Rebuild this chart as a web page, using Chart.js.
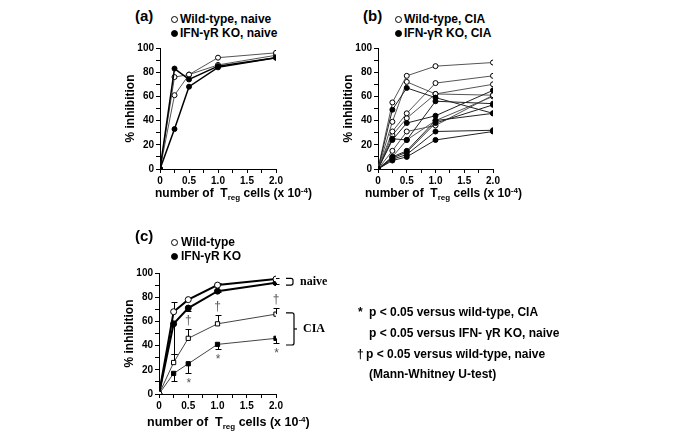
<!DOCTYPE html>
<html>
<head>
<meta charset="utf-8">
<script src="https://cdn.jsdelivr.net/npm/chart.js@4.4.1/dist/chart.umd.min.js"></script>
<style>
  body { margin: 0; width: 685px; height: 448px; background: #fff; position: relative; overflow: hidden;
         font-family: "Liberation Sans", Arial, sans-serif; font-weight: bold; color: #000; }
  .txt { position: absolute; white-space: nowrap; line-height: 14px; font-size: 12px; }
  .tag { position: absolute; font-size: 15px; line-height: 18px; }
  .dot { position: absolute; width: 5px; height: 5px; border: 1px solid #000; border-radius: 50%; background: #fff; }
  .dot.fill { background: #000; }
  .xt sub { font-size: 8px; vertical-align: -3px; }
  .xt sup { font-size: 8px; vertical-align: 4px; }
  .note { font-size: 12px; }
  canvas { position: absolute; }
</style>
</head>
<body>
<div class="tag" style="left:135px;top:7px">(a)</div>
<span class="dot" style="left:171px;top:16px"></span>
<div class="txt" style="left:180px;top:12px">Wild-type, naive</div>
<span class="dot fill" style="left:171px;top:30px"></span>
<div class="txt" style="left:180px;top:26px">IFN-γR KO, naive</div>
<canvas id="chartA" width="169" height="149" style="left:119px;top:40px"></canvas>
<div class="txt xt" style="left:155px;top:184px">number of&nbsp; T<sub>reg</sub> cells (x 10<sup>-4</sup>)</div>

<div class="tag" style="left:363px;top:7px">(b)</div>
<span class="dot" style="left:395px;top:16px"></span>
<div class="txt" style="left:404px;top:12px">Wild-type, CIA</div>
<span class="dot fill" style="left:395px;top:30px"></span>
<div class="txt" style="left:404px;top:26px">IFN-γR KO, CIA</div>
<canvas id="chartB" width="168" height="149" style="left:337px;top:40px"></canvas>
<div class="txt xt" style="left:365px;top:184px">number of&nbsp; T<sub>reg</sub> cells (x 10<sup>-4</sup>)</div>

<div class="tag" style="left:135px;top:227px">(c)</div>
<span class="dot" style="left:171px;top:239px"></span>
<div class="txt" style="left:181px;top:235px">Wild-type</div>
<span class="dot fill" style="left:171px;top:253px"></span>
<div class="txt" style="left:181px;top:249px">IFN-γR KO</div>
<canvas id="chartC" width="222" height="149" style="left:118px;top:265px"></canvas>
<div class="txt xt" style="left:147px;top:413px;font-size:12.5px">number of&nbsp; T<sub>reg</sub> cells (x 10<sup>-4</sup>)</div>

<div class="txt note" style="left:358px;top:305px">*</div>
<div class="txt note" style="left:369px;top:305px">p &lt; 0.05 versus wild-type, CIA</div>
<div class="txt note" style="left:369px;top:326px">p &lt; 0.05 versus IFN- γR KO, naive</div>
<div class="txt note" style="left:357px;top:347px">†</div>
<div class="txt note" style="left:366px;top:347px">p &lt; 0.05 versus wild-type, naive</div>
<div class="txt note" style="left:369px;top:367px">(Mann-Whitney U-test)</div>

<script>
const doses = [0, 0.25, 0.5, 1.0, 2.0];

// (a) naive mice, one line per experiment
const wtNaiveRuns = [
  [0, 76, 78, 92, 96],
  [0, 61, 78, 86, 94],
];
const koNaiveRuns = [
  [0, 83, 74, 85, 92],
  [0, 33, 68, 84, 92],
];

// (b) CIA mice, one line per experiment
const wtCiaRuns = [
  [0, 55, 77, 85, 88],
  [0, 39, 72, 62, 61],
  [0, 31, 46, 71, 77],
  [0, 28, 42, 62, 70],
  [0, 15, 31, 36, 61],
  [0, 10, 24, 40, 60],
];
const koCiaRuns = [
  [0, 49, 67, 59, 46],
  [0, 24, 38, 44, 65],
  [0, 25, 24, 56, 54],
  [0, 10, 15, 40, 46],
  [0, 8, 12, 31, 32],
  [0, 7, 10, 24, 31],
  [0, 9, 14, 38, 53],
];

// (c) means and error bars
const wtNaiveMean = [0, 68, 78, 90, 95];
const wtNaiveErr = [0, 8, 1, 2, 1];
const koNaiveMean = [0, 58, 71, 85, 92];
const koNaiveErr = [0, 25, 2, 1, 1];
const wtCiaMean = [0, 26, 46, 58, 66];
const wtCiaErr = [0, 7, 8, 7, 5];
const koCiaMean = [0, 17, 25, 41, 46];
const koCiaErr = [0, 6, 8, 4, 4];
const daggerAt = [false, false, true, true, true];
const starAt = [false, false, true, true, true];

const FONT = '"Liberation Sans", Arial, sans-serif';

function series(values, filled, opts) {
  return Object.assign({
    data: doses.map((d, i) => ({ x: d, y: values[i] })),
    borderColor: '#333',
    borderWidth: 1,
    pointRadius: 2.5,
    pointBorderWidth: 1,
    pointBorderColor: '#000',
    pointBackgroundColor: filled ? '#000' : '#fff',
    tension: 0,
  }, opts || {});
}

function baseOptions(padRight) {
  return {
    responsive: false,
    animation: false,
    events: [],
    layout: { padding: { top: 8, right: padRight, left: 0, bottom: 0 } },
    plugins: { legend: { display: false }, tooltip: { enabled: false } },
    scales: {
      x: {
        type: 'linear', min: 0, max: 2,
        border: { display: true, color: '#000', width: 1 },
        grid: { drawOnChartArea: false, drawTicks: true, tickLength: 4, color: '#000' },
        ticks: {
          stepSize: 0.25, autoSkip: false, maxRotation: 0, padding: 2,
          color: '#000', font: { family: FONT, size: 10, weight: 'bold' },
          callback: v => (v % 0.5 === 0 ? (v === 0 ? '0' : v.toFixed(1)) : ''),
        },
        afterFit: s => { s.height = 20; },
      },
      y: {
        min: 0, max: 100,
        border: { display: true, color: '#000', width: 1 },
        grid: { drawOnChartArea: false, drawTicks: true, tickLength: 4, color: '#000' },
        ticks: {
          stepSize: 10, autoSkip: false, padding: 2,
          color: '#000', font: { family: FONT, size: 10, weight: 'bold' },
          callback: v => (v % 20 === 0 ? v : ''),
        },
        title: { display: true, text: '% inhibition', color: '#000', padding: { top: 4, bottom: 0 },
                 font: { family: FONT, size: 12, weight: 'bold' } },
        afterFit: s => { s.width = 41; },
      },
    },
  };
}

// panel (a)
new Chart(document.getElementById('chartA'), {
  type: 'line',
  data: {
    datasets: [
      ...koNaiveRuns.map(r => series(r, true, { borderColor: '#000', borderWidth: 1.5 })),
      ...wtNaiveRuns.map(r => series(r, false, { borderColor: '#555' })),
    ],
  },
  options: baseOptions(12),
});

// panel (b)
new Chart(document.getElementById('chartB'), {
  type: 'line',
  data: {
    datasets: [
      ...koCiaRuns.map(r => series(r, true, { borderColor: '#222' })),
      ...wtCiaRuns.map(r => series(r, false, { borderColor: '#555' })),
    ],
  },
  options: baseOptions(12),
});

// panel (c): error bars, significance marks and group brackets
const marksPlugin = {
  id: 'marks',
  beforeDatasetsDraw(chart) {
    const { ctx, scales: { x, y } } = chart;
    const bars = [
      [wtNaiveMean, wtNaiveErr, 1],
      [koNaiveMean, koNaiveErr, -1],
      [wtCiaMean, wtCiaErr, 1],
      [koCiaMean, koCiaErr, -1],
    ];
    ctx.save();
    ctx.strokeStyle = '#000';
    ctx.lineWidth = 1;
    bars.forEach(([mean, err, dir]) => {
      doses.forEach((d, i) => {
        if (!err[i]) return;
        const px = Math.round(x.getPixelForValue(d)) + 0.5;
        const y0 = y.getPixelForValue(mean[i]);
        const y1 = Math.round(y.getPixelForValue(mean[i] + dir * err[i])) + 0.5;
        ctx.beginPath();
        ctx.moveTo(px, y0); ctx.lineTo(px, y1);
        ctx.moveTo(px - 3, y1); ctx.lineTo(px + 3, y1);
        ctx.stroke();
      });
    });
    ctx.restore();
  },
  afterDraw(chart) {
    const { ctx, scales: { x, y } } = chart;
    ctx.save();
    ctx.fillStyle = '#555';
    ctx.textAlign = 'center';
    ctx.textBaseline = 'middle';
    ctx.font = '12px ' + FONT;
    doses.forEach((d, i) => {
      const px = x.getPixelForValue(d);
      if (daggerAt[i]) ctx.fillText('†', px, y.getPixelForValue(wtCiaMean[i] + wtCiaErr[i] + 7));
      if (starAt[i]) ctx.fillText('*', px + 0.5, y.getPixelForValue(koCiaMean[i] - koCiaErr[i] - 6) + 3);
    });

    const bx = x.getPixelForValue(2) + 10;
    ctx.strokeStyle = '#000';
    ctx.lineWidth = 1.2;
    const bracket = (top, bot, w) => {
      const t = y.getPixelForValue(top), b = y.getPixelForValue(bot);
      ctx.beginPath();
      ctx.moveTo(bx, t);
      ctx.lineTo(bx + w - 2, t);
      ctx.quadraticCurveTo(bx + w, t, bx + w, t + 2);
      ctx.lineTo(bx + w, b - 2);
      ctx.quadraticCurveTo(bx + w, b, bx + w - 2, b);
      ctx.lineTo(bx, b);
      ctx.stroke();
      return (t + b) / 2;
    };
    const midNaive = bracket(95.5, 90, 7);
    const midCia = bracket(67, 40.5, 8);
    ctx.beginPath();
    ctx.moveTo(bx + 8, midCia); ctx.lineTo(bx + 11, midCia);
    ctx.stroke();

    ctx.fillStyle = '#000';
    ctx.textAlign = 'left';
    ctx.font = 'bold 12px "Liberation Serif", "Times New Roman", serif';
    ctx.fillText('naive', bx + 14, midNaive);
    ctx.fillText('CIA', bx + 17, midCia);
    ctx.restore();
  },
};

const optsC = baseOptions(64);
new Chart(document.getElementById('chartC'), {
  type: 'line',
  data: {
    datasets: [
      series(wtNaiveMean, false, { borderColor: '#000', borderWidth: 2, pointRadius: 3 }),
      series(koNaiveMean, true, { borderColor: '#000', borderWidth: 2, pointRadius: 3 }),
      series(wtCiaMean, false, { borderColor: '#444', pointRadius: 3, pointStyle: 'rect' }),
      series(koCiaMean, true, { borderColor: '#444', pointRadius: 3, pointStyle: 'rect' }),
    ],
  },
  options: optsC,
  plugins: [marksPlugin],
});
</script>
</body>
</html>
